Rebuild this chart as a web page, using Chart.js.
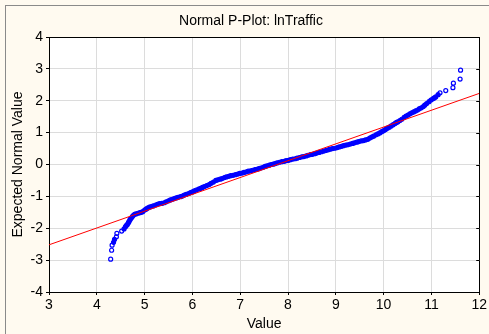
<!DOCTYPE html>
<html>
<head>
<meta charset="utf-8">
<title>Normal P-Plot: lnTraffic</title>
<script src="https://cdn.jsdelivr.net/npm/chart.js@4/dist/chart.umd.min.js"></script>
<style>
  body { margin: 0; background: #fffaf0; }
  canvas { display: block; }
</style>
</head>
<body>
<canvas id="myChart" width="489" height="334"></canvas>
<script>
'use strict';

// global variables

let chartTitle = 'Normal P-Plot: lnTraffic';
let xTitle = 'Value';
let yTitle = 'Expected Normal Value';

let xTicks = [3, 4, 5, 6, 7, 8, 9, 10, 11, 12];
let yTicks = [-4, -3, -2, -1, 0, 1, 2, 3, 4];

// observed lnTraffic values (sorted) and their expected normal values
let xVals = [
  4.29, 4.31, 4.32, 4.35, 4.37, 4.41, 4.42, 4.52, 4.57, 4.60,
  4.62, 4.64, 4.66, 4.67, 4.69, 4.70, 4.72, 4.74, 4.76, 4.79,
  4.82, 4.86, 4.90, 4.93, 4.96, 5.00, 5.03, 5.06, 5.10, 5.14,
  5.18, 5.23, 5.27, 5.31, 5.36, 5.41, 5.45, 5.50, 5.54, 5.58,
  5.62, 5.66, 5.70, 5.75, 5.79, 5.83, 5.87, 5.92, 5.96, 6.00,
  6.04, 6.08, 6.13, 6.17, 6.21, 6.25, 6.30, 6.35, 6.39, 6.44,
  6.49, 6.53, 6.58, 6.62, 6.67, 6.71, 6.76, 6.80, 6.85, 6.90,
  6.95, 6.99, 7.04, 7.08, 7.13, 7.17, 7.22, 7.26, 7.31, 7.35,
  7.39, 7.43, 7.48, 7.52, 7.56, 7.61, 7.65, 7.69, 7.73, 7.77,
  7.82, 7.87, 7.92, 7.96, 8.01, 8.05, 8.10, 8.15, 8.19, 8.24,
  8.29, 8.33, 8.38, 8.42, 8.47, 8.51, 8.56, 8.60, 8.65, 8.70,
  8.75, 8.79, 8.84, 8.88, 8.93, 8.98, 9.03, 9.07, 9.12, 9.16,
  9.21, 9.25, 9.30, 9.35, 9.39, 9.44, 9.48, 9.53, 9.58, 9.62,
  9.67, 9.71, 9.75, 9.79, 9.84, 9.88, 9.92, 9.96, 10.00, 10.04,
  10.08, 10.12, 10.16, 10.20, 10.24, 10.27, 10.30, 10.34, 10.38, 10.43,
  10.47, 10.51, 10.55, 10.59, 10.63, 10.67, 10.71, 10.75, 10.79, 10.83,
  10.86, 10.90, 10.95, 10.99, 11.03, 11.06, 11.09, 11.14, 11.18, 11.30,
  11.45, 11.46, 11.60, 11.61
];
let yVals = [
  -2.97, -2.69, -2.53, -2.44, -2.35, -2.27, -2.16, -2.09, -2.02, -1.95,
  -1.91, -1.88, -1.83, -1.80, -1.75, -1.71, -1.68, -1.64, -1.60, -1.56,
  -1.55, -1.53, -1.51, -1.50, -1.48, -1.43, -1.40, -1.37, -1.34, -1.32,
  -1.30, -1.27, -1.25, -1.23, -1.22, -1.20, -1.17, -1.14, -1.11, -1.09,
  -1.07, -1.05, -1.03, -1.01, -0.99, -0.96, -0.94, -0.91, -0.88, -0.86,
  -0.83, -0.80, -0.77, -0.75, -0.72, -0.69, -0.66, -0.63, -0.59, -0.55,
  -0.50, -0.48, -0.46, -0.44, -0.41, -0.39, -0.37, -0.35, -0.34, -0.32,
  -0.30, -0.28, -0.27, -0.25, -0.23, -0.21, -0.20, -0.18, -0.16, -0.15,
  -0.13, -0.11, -0.09, -0.06, -0.04, -0.02, 0.00, 0.01, 0.03, 0.05,
  0.07, 0.09, 0.10, 0.12, 0.13, 0.15, 0.17, 0.18, 0.20, 0.22,
  0.24, 0.25, 0.27, 0.29, 0.31, 0.32, 0.34, 0.36, 0.38, 0.40,
  0.42, 0.44, 0.46, 0.48, 0.50, 0.51, 0.53, 0.55, 0.57, 0.59,
  0.61, 0.62, 0.64, 0.66, 0.68, 0.70, 0.72, 0.74, 0.75, 0.77,
  0.79, 0.83, 0.86, 0.89, 0.93, 0.96, 0.99, 1.03, 1.06, 1.10,
  1.14, 1.17, 1.21, 1.25, 1.29, 1.32, 1.34, 1.38, 1.42, 1.48,
  1.52, 1.55, 1.59, 1.62, 1.65, 1.68, 1.71, 1.75, 1.78, 1.82,
  1.86, 1.91, 1.97, 2.02, 2.06, 2.09, 2.12, 2.19, 2.25, 2.32,
  2.41, 2.55, 2.68, 2.96
];

// fitted reference line (end points at the axis limits)
let lineX = [3, 12];
let lineY = [-2.52, 2.23];

let fontFamily = '"Liberation Sans", Arial, sans-serif';

// functional logic

function toPoints(xs, ys) {
  let pts = [];
  for (let i = 0; i < xs.length; i++) {
    pts.push({ x: xs[i], y: ys[i] });
  }
  return pts;
}

// where the sample is dense the markers overlap into a solid band,
// so fill a marker when both neighbours sit within a few pixels
function markerFill(c) {
  let i = c.dataIndex;
  let chart = c.chart;
  if (!chart.scales || !chart.scales.x) return 'rgba(0,0,0,0)';
  let sx = chart.scales.x;
  let sy = chart.scales.y;
  let gap = (a, b) => {
    if (b < 0 || b >= xVals.length) return 99;
    let dx = sx.getPixelForValue(xVals[a]) - sx.getPixelForValue(xVals[b]);
    let dy = sy.getPixelForValue(yVals[a]) - sy.getPixelForValue(yVals[b]);
    return Math.sqrt(dx * dx + dy * dy);
  };
  if (gap(i, i - 1) < 3.4 && gap(i, i + 1) < 3.4) return '#0000ff';
  return 'rgba(0,0,0,0)';
}

// paints cream page, white plot area, outer frame, title and right-side ticks
const framePlugin = {
  id: 'frame',
  beforeDraw(chart) {
    let ctx = chart.ctx;
    let area = chart.chartArea;
    ctx.save();
    ctx.fillStyle = '#fffaf0';
    ctx.fillRect(0, 0, chart.width, chart.height);
    ctx.strokeStyle = '#8a8a8a';
    ctx.lineWidth = 1;
    ctx.strokeRect(5.5, 5.5, chart.width + 20, chart.height + 20);
    ctx.fillStyle = '#ffffff';
    ctx.fillRect(area.left, area.top, area.right - area.left, area.bottom - area.top);
    ctx.restore();
  },
  afterDraw(chart) {
    let ctx = chart.ctx;
    let area = chart.chartArea;
    let yScale = chart.scales.y;
    ctx.save();
    ctx.fillStyle = '#000';
    ctx.font = '14px ' + fontFamily;
    ctx.textAlign = 'center';
    ctx.textBaseline = 'middle';
    ctx.fillText(chartTitle, 251, 21);
    ctx.strokeStyle = '#000';
    ctx.lineWidth = 1;
    ctx.beginPath();
    for (let i = 0; i < yTicks.length; i++) {
      let py = Math.round(yScale.getPixelForValue(yTicks[i])) + 0.5;
      ctx.moveTo(area.right - 3, py);
      ctx.lineTo(area.right, py);
    }
    ctx.stroke();
    ctx.restore();
  }
};

function renderChart() {
  const data = {
    datasets: [{
      type: 'line',
      label: 'fit',
      data: toPoints(lineX, lineY),
      borderColor: '#ff0000',
      borderWidth: 1,
      pointRadius: 0,
      fill: false
    },
    {
      type: 'scatter',
      label: 'lnTraffic',
      data: toPoints(xVals, yVals),
      pointStyle: 'circle',
      pointRadius: 2,
      pointBorderWidth: 1.2,
      borderColor: '#0000ff',
      backgroundColor: markerFill
    }]
  };

  const tickFont = { family: fontFamily, size: 14 };

  const config = {
    type: 'scatter',
    data: data,
    options: {
      responsive: false,
      animation: false,
      layout: { padding: { left: 0, top: 37, right: 7, bottom: 0 } },
      plugins: {
        legend: { display: false },
        tooltip: { enabled: false }
      },
      scales: {
        x: {
          type: 'linear',
          min: xTicks[0],
          max: xTicks[xTicks.length - 1],
          afterBuildTicks: (scale) => { scale.ticks = xTicks.map(v => ({ value: v })); },
          afterFit: (scale) => { scale.height = 42; },
          ticks: { font: tickFont, color: '#000', padding: 2, maxRotation: 0 },
          grid: {
            color: (c) => (c.tick && c.tick.value === 12 ? '#000' : '#dcdcdc'),
            tickColor: '#000',
            tickLength: 3
          },
          border: { color: '#000' },
          title: { display: true, text: xTitle, font: tickFont, color: '#000', padding: { top: 0, bottom: 1 } }
        },
        y: {
          type: 'linear',
          min: yTicks[0],
          max: yTicks[yTicks.length - 1],
          afterBuildTicks: (scale) => { scale.ticks = yTicks.map(v => ({ value: v })); },
          afterFit: (scale) => { scale.width = 49; },
          ticks: { font: tickFont, color: '#000', padding: 3 },
          grid: {
            color: (c) => (c.tick && c.tick.value === 4 ? '#000' : '#dcdcdc'),
            tickColor: '#000',
            tickLength: 3
          },
          border: { color: '#000' },
          title: { display: true, text: yTitle, font: tickFont, color: '#000', padding: { top: 10, bottom: 0 } }
        }
      }
    },
    plugins: [framePlugin]
  };

  let canvasChart = document.getElementById('myChart');
  const myChart = new Chart(canvasChart, config);
}

// executable code

renderChart();
</script>
</body>
</html>
